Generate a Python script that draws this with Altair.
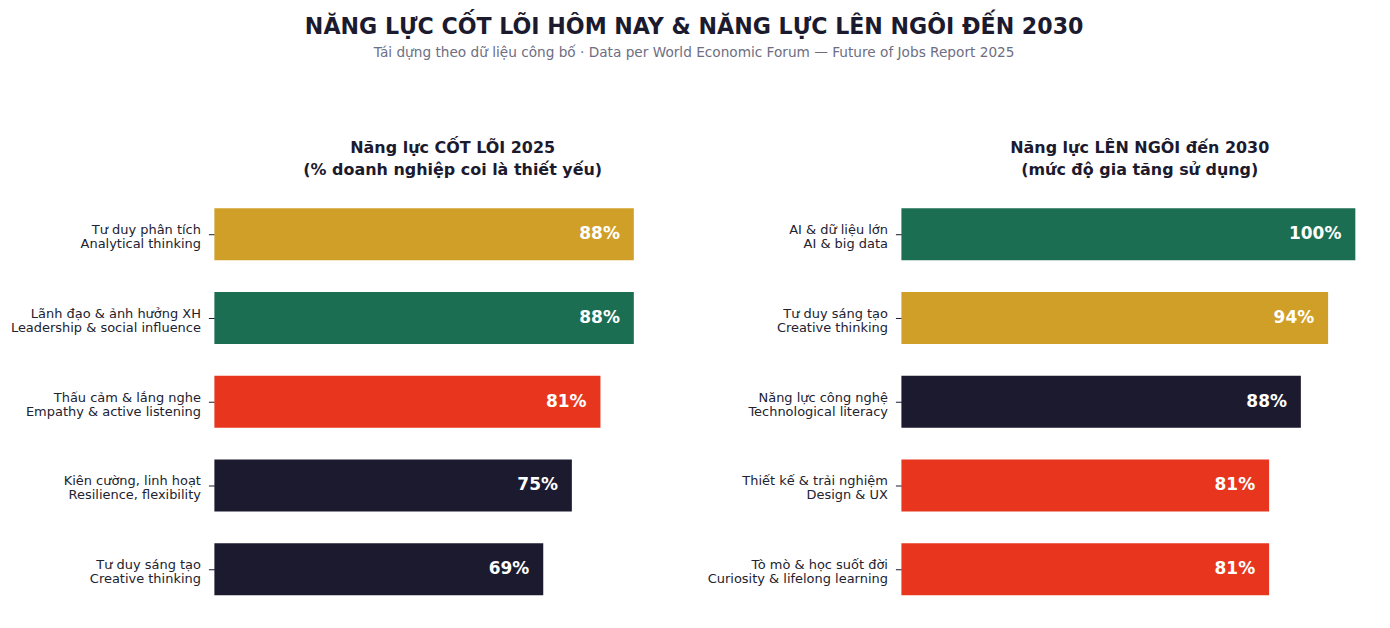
import altair as alt
import pandas as pd

core_labels = [
    "Tư duy phân tích\nAnalytical thinking",
    "Lãnh đạo & ảnh hưởng XH\nLeadership & social influence",
    "Thấu cảm & lắng nghe\nEmpathy & active listening",
    "Kiên cường, linh hoạt\nResilience, flexibility",
    "Tư duy sáng tạo\nCreative thinking",
]
core_values = [88, 88, 81, 75, 69]
core_colors = ["#CF9F27", "#1B6E52", "#E8361E", "#1C1A2E", "#1C1A2E"]

rise_labels = [
    "AI & dữ liệu lớn\nAI & big data",
    "Tư duy sáng tạo\nCreative thinking",
    "Năng lực công nghệ\nTechnological literacy",
    "Thiết kế & trải nghiệm\nDesign & UX",
    "Tò mò & học suốt đời\nCuriosity & lifelong learning",
]
rise_values = [100, 94, 88, 81, 81]
rise_colors = ["#1B6E52", "#CF9F27", "#1C1A2E", "#E8361E", "#E8361E"]

FONT = "DejaVu Sans"
INK = "#1C1A2E"


def panel(labels, values, colors, xmax, title_lines):
    df = pd.DataFrame({"label": labels, "value": values, "color": colors})
    df["txt"] = [f"{v}%" for v in values]
    y = alt.Y(
        "label:N",
        sort=None,
        title=None,
        scale=alt.Scale(paddingInner=0.38, paddingOuter=0.19),
        axis=alt.Axis(
            domain=False,
            ticks=True,
            tickSize=6,
            tickColor=INK,
            labelFontSize=13,
            labelFont=FONT,
            labelColor="#222230",
            labelPadding=8,
            labelLimit=300,
            labelExpr="split(datum.label, '\\n')",
            labelLineHeight=14,
            labelOffset=-4,
            minExtent=195,
            maxExtent=195,
        ),
    )
    x = alt.X("value:Q", scale=alt.Scale(domain=[0, xmax], nice=False), axis=None)
    base = alt.Chart(df)
    bars = base.mark_bar(cornerRadius=0).encode(
        x=x, y=y, color=alt.Color("color:N", scale=None)
    )
    text = base.mark_text(
        align="right", baseline="middle", dx=-14, fontSize=17,
        fontWeight="bold", font=FONT, color="white"
    ).encode(x=x, y=y, text="txt:N")
    return alt.layer(bars, text).properties(
        width=478,
        height=420,
        title=alt.TitleParams(
            text=title_lines,
            fontSize=16,
            fontWeight="bold",
            font=FONT,
            color=INK,
            anchor="middle",
            frame="group",
            offset=14,
            lineHeight=22,
        ),
    )


left = panel(core_labels, core_values, core_colors, 100,
             ["Năng lực CỐT LÕI 2025", "(% doanh nghiệp coi là thiết yếu)"])
right = panel(rise_labels, rise_values, rise_colors, 105,
              ["Năng lực LÊN NGÔI đến 2030", "(mức độ gia tăng sử dụng)"])

chart = (
    alt.hconcat(left, right, spacing=16)
    .properties(
        title=alt.TitleParams(
            text="NĂNG LỰC CỐT LÕI HÔM NAY & NĂNG LỰC LÊN NGÔI ĐẾN 2030",
            subtitle="Tái dựng theo dữ liệu công bố · Data per World Economic Forum — Future of Jobs Report 2025",
            fontSize=22.2,
            fontWeight="bold",
            font=FONT,
            color=INK,
            subtitleFont=FONT,
            subtitleFontSize=13.7,
            subtitleColor="#6E6E82",
            subtitlePadding=8,
            anchor="middle",
            offset=81,
        ),
        padding={"left": 10, "top": 15, "right": 12, "bottom": 10},
        background="white",
    )
    .configure_view(stroke=None)
)

chart.save("out.html", embed_options={"renderer": "svg", "actions": False})
